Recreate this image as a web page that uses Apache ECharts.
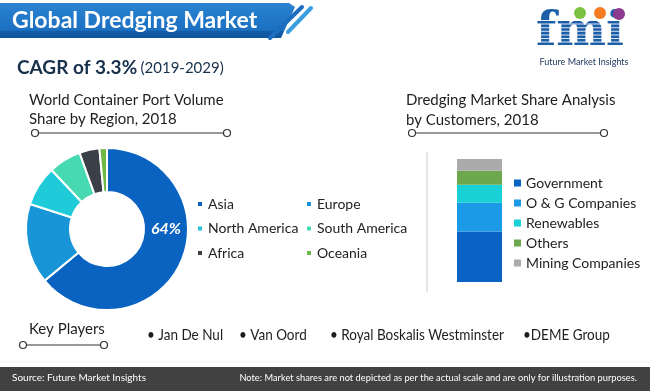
<!DOCTYPE html>
<html>
<head>
<meta charset="utf-8">
<script src="https://cdn.jsdelivr.net/npm/echarts@6/dist/echarts.min.js"></script>
<style>
html,body{margin:0;padding:0;background:#fff;}
#c{width:650px;height:391px;}
</style>
</head>
<body>
<div id="c"></div>
<script>
// ---- data ----
var regions = ['Asia', 'Europe', 'North America', 'South America', 'Africa', 'Oceania'];
var regionShare = [64, 16, 8, 6.5, 4, 1.5];
var customers = ['Government', 'O & G Companies', 'Renewables', 'Others', 'Mining Companies'];
var customerShare = [41, 23.5, 14.5, 11.5, 9.5];
var keyPlayers = ['• Jan De Nul', '• Van Oord', '• Royal Boskalis Westminster', '•DEME Group'];

// ---- styles / layout ----
var regionColors = ['#0b63c1', '#1795d6', '#1fcbd9', '#46d9b2', '#3b3f48', '#6fb845'];
var customerColors = ['#0a62c4', '#1b9ae8', '#19d0d6', '#6ea84e', '#ababab'];
var playerX = [147, 239, 330, 523];
var FONT = 'Lato, "Open Sans", sans-serif';

var chart = echarts.init(document.getElementById('c'), null, {renderer: 'canvas'});

function txt(x, y, text, font, fill, align, extra) {
  var o = {type: 'text', x: x, y: y, silent: true,
    style: {text: text, font: font, fill: fill, align: align || 'left', verticalAlign: 'middle'}};
  if (extra) for (var k in extra) o[k] = extra[k];
  return o;
}
function dotLine(x1, x2, y) {
  return [
    {type: 'line', silent: true, shape: {x1: x1, y1: y, x2: x2, y2: y}, style: {stroke: '#333', lineWidth: 1.2}},
    {type: 'circle', silent: true, shape: {cx: x1, cy: y, r: 3.5}, style: {fill: '#fff', stroke: '#333', lineWidth: 1.2}},
    {type: 'circle', silent: true, shape: {cx: x2, cy: y, r: 3.5}, style: {fill: '#fff', stroke: '#333', lineWidth: 1.2}}
  ];
}

var graphics = [];
// header banner
graphics.push({type: 'polygon', silent: true,
  shape: {points: [[0, 3], [289, 3], [295, 7], [281, 38], [0, 38]]},
  style: {fill: new echarts.graphic.LinearGradient(0, 0, 0, 1, [
    {offset: 0, color: '#2a83d0'}, {offset: 0.78, color: '#1c70c2'}, {offset: 0.8, color: '#135ea9'}, {offset: 1, color: '#0f549c'}])}});
graphics.push({type: 'line', silent: true, shape: {x1: 270, y1: 38, x2: 302, y2: 7}, style: {stroke: '#1c6fc0', lineWidth: 4, lineCap: 'round'}});
graphics.push({type: 'line', silent: true, shape: {x1: 288, y1: 32, x2: 311, y2: 8}, style: {stroke: '#3a9ee0', lineWidth: 4, lineCap: 'round'}});
graphics.push(txt(12, 21, 'Global Dredging Market', 'bold 23px ' + FONT, '#ffffff'));

// CAGR
graphics.push({type: 'text', x: 17, y: 68, silent: true,
  style: {text: '{b|CAGR of 3.3%} {r|(2019-2029)}', verticalAlign: 'middle', align: 'left',
    rich: {b: {font: 'bold 19px ' + FONT, fill: '#17304c'}, r: {font: '15px ' + FONT, fill: '#17304c'}}}});

// logo
graphics.push(txt(536, 33, 'fmi', 'bold 47px "DejaVu Serif", serif', '#1d5ea9', 'left'));
for (var i = 0; i < 9; i++) {
  graphics.push({type: 'rect', silent: true, shape: {x: 534, y: 20 + i * 3.6, width: 100, height: 1}, style: {fill: '#ffffff', opacity: 0.85}});
}
graphics.push({type: 'circle', silent: true, shape: {cx: 580, cy: 13, r: 6}, style: {fill: '#7cc242'}});
graphics.push({type: 'circle', silent: true, shape: {cx: 600, cy: 13, r: 6}, style: {fill: '#f47b20'}});
graphics.push({type: 'circle', silent: true, shape: {cx: 619, cy: 14, r: 6}, style: {fill: '#8e3a8e'}});
graphics.push(txt(584, 62, 'Future Market Insights', '9px ' + FONT, '#1a3559', 'center'));

// section titles
graphics.push(txt(29, 100, 'World Container Port Volume', '15px ' + FONT, '#1e1e1e'));
graphics.push(txt(29, 119, 'Share by Region, 2018', '15px ' + FONT, '#1e1e1e'));
graphics = graphics.concat(dotLine(35, 227, 133));
graphics.push(txt(406, 100, 'Dredging Market Share Analysis', '15px ' + FONT, '#1e1e1e'));
graphics.push(txt(406, 120, 'by Customers, 2018', '15px ' + FONT, '#1e1e1e'));
graphics = graphics.concat(dotLine(412, 604, 133));

// separator
graphics.push({type: 'line', silent: true, shape: {x1: 427, y1: 152, x2: 427, y2: 292}, style: {stroke: '#dcdcdc', lineWidth: 1.5}});

// pie value label
graphics.push(txt(166, 229, regionShare[0] + '%', 'italic bold 16px ' + FONT, '#ffffff', 'center', {z: 100}));

// key players
graphics.push(txt(29, 329, 'Key Players', '15px ' + FONT, '#1e1e1e'));
graphics = graphics.concat(dotLine(23, 104, 345));
keyPlayers.forEach(function (p, idx) {
  graphics.push(txt(playerX[idx], 335, p, '15px ' + FONT, '#1e1e1e', 'left', {scaleX: 0.9}));
});

// footer
graphics.push({type: 'line', silent: true, shape: {x1: 0, y1: 362, x2: 650, y2: 362}, style: {stroke: '#f0f0f0', lineWidth: 1}});
graphics.push({type: 'rect', silent: true, shape: {x: 0, y: 367, width: 650, height: 24}, style: {fill: '#414141'}});
graphics.push(txt(12, 378, 'Source: Future Market Insights', '10px ' + FONT, '#ffffff', 'left'));
graphics.push(txt(637, 378, 'Note: Market shares are not depicted as per the actual scale and are only for illustration purposes.', '10px ' + FONT, '#ffffff', 'right', {scaleX: 0.93}));

var barSeries = customers.map(function (name, i) {
  return {
    name: name, type: 'bar', stack: 'total', barWidth: 45,
    xAxisIndex: 0, yAxisIndex: 0,
    itemStyle: {color: customerColors[i]},
    data: [customerShare[i]], silent: true
  };
});

var legendText = {fontFamily: FONT, fontSize: 14, color: '#222', lineHeight: 16};

chart.setOption({
  animation: false,
  backgroundColor: '#ffffff',
  legend: [
    {data: [regions[0], regions[2], regions[4]], orient: 'vertical', left: 196, top: 196,
      icon: 'rect', itemWidth: 6, itemHeight: 6, itemGap: 8.5, padding: 0, selectedMode: false,
      textStyle: legendText},
    {data: [regions[1], regions[3], regions[5]], orient: 'vertical', left: 305, top: 196,
      icon: 'rect', itemWidth: 6, itemHeight: 6, itemGap: 8.5, padding: 0, selectedMode: false,
      textStyle: legendText},
    {data: customers, orient: 'vertical', left: 514, top: 175,
      icon: 'rect', itemWidth: 7, itemHeight: 7, itemGap: 4, padding: 0, selectedMode: false,
      textStyle: legendText}
  ],
  grid: {left: 457, top: 159, width: 45, height: 123},
  xAxis: {type: 'category', data: ['2018'], show: false},
  yAxis: {type: 'value', min: 0, max: 100, show: false},
  series: [{
    type: 'pie', center: [107, 229], radius: [37, 81], startAngle: 90, clockwise: true,
    silent: true, label: {show: false}, labelLine: {show: false},
    itemStyle: {borderColor: '#ffffff', borderWidth: 2},
    data: regions.map(function (r, i) {
      return {name: r, value: regionShare[i], itemStyle: {color: regionColors[i]}};
    })
  }].concat(barSeries),
  graphic: graphics
});
</script>
</body>
</html>
